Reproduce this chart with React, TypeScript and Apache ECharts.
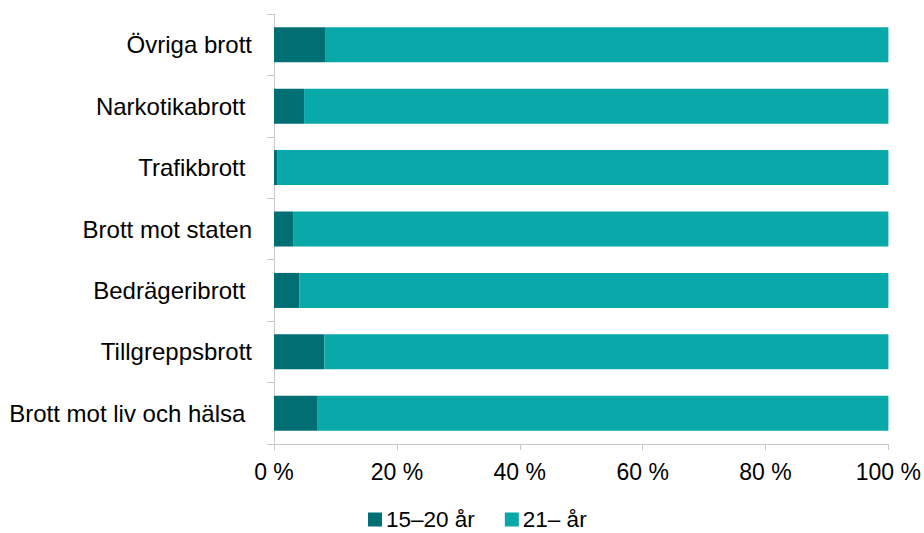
import React, { useEffect, useRef } from "react";
import * as echarts from "echarts";

const categories = [
  "Brott mot liv och hälsa ",
  "Tillgreppsbrott",
  "Bedrägeribrott ",
  "Brott mot staten",
  "Trafikbrott ",
  "Narkotikabrott ",
  "Övriga brott",
];
const seriesNames = ["15–20 år", "21– år"];
const young = [7.0, 8.2, 4.1, 3.1, 0.5, 4.9, 8.3];
const adult = [93.0, 91.8, 95.9, 96.9, 99.5, 95.1, 91.7];
const xTicks = { min: 0, max: 100, interval: 20 };

const FONT = "'Liberation Sans', Arial, sans-serif";
const AXIS = "#c8c8c8";

export default function App() {
  const ref = useRef<HTMLDivElement>(null);
  useEffect(() => {
    if (!ref.current) return;
    const chart = echarts.init(ref.current, undefined, { renderer: "svg" });
    chart.setOption({
      animation: false,
      textStyle: { fontFamily: FONT },
      grid: { left: 274, right: 35, top: 14, bottom: 89, containLabel: false },
      legend: {
        data: seriesNames,
        top: 508,
        left: 368,
        padding: 0,
        itemWidth: 14,
        itemHeight: 14,
        itemGap: 30,
        icon: "rect",
        textStyle: {
          fontSize: 22.5,
          lineHeight: 22,
          color: "#000",
          fontFamily: FONT,
          padding: [0, 0, 0, -1],
        },
      },
      xAxis: {
        type: "value",
        min: xTicks.min,
        max: xTicks.max,
        interval: xTicks.interval,
        axisLine: { show: true, lineStyle: { color: AXIS, width: 1 } },
        axisTick: { show: true, length: 6, lineStyle: { color: AXIS } },
        splitLine: { show: false },
        axisLabel: {
          formatter: "{value} %",
          fontSize: 23,
          color: "#000",
          fontFamily: FONT,
          margin: 16,
        },
      },
      yAxis: {
        type: "category",
        data: categories,
        axisLine: { show: true, lineStyle: { color: AXIS, width: 1 } },
        axisTick: { show: true, length: 7, lineStyle: { color: AXIS } },
        axisLabel: { fontSize: 24, color: "#000", fontFamily: FONT, margin: 22 },
      },
      series: [
        {
          name: seriesNames[0],
          type: "bar",
          stack: "total",
          data: young,
          barWidth: "57%",
          itemStyle: { color: "#006F74" },
        },
        {
          name: seriesNames[1],
          type: "bar",
          stack: "total",
          data: adult,
          barWidth: "57%",
          itemStyle: { color: "#0AA9A9" },
        },
      ],
    });
    return () => chart.dispose();
  }, []);
  return <div ref={ref} style={{ width: 924, height: 533, position: "absolute", left: 0, top: 0 }} />;
}
